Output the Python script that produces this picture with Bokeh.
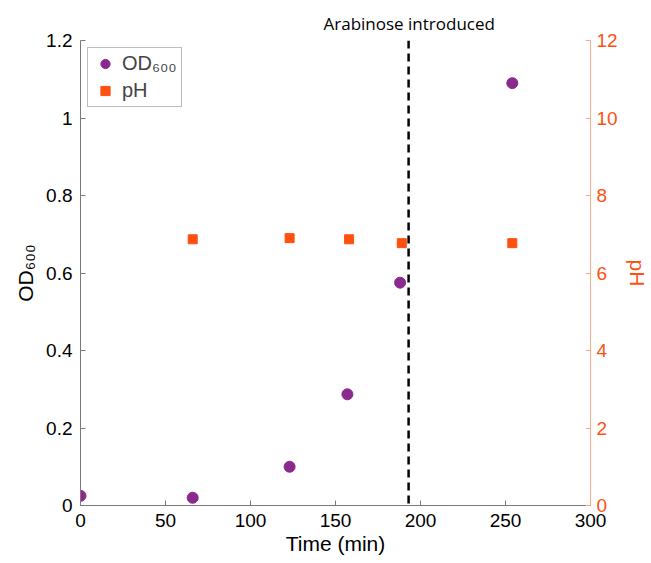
from bokeh.plotting import figure
from bokeh.models import Range1d, LinearAxis, Span, Title, FixedTicker, Legend, LegendItem
from bokeh.embed import file_html
from bokeh.resources import INLINE

# Growth measurements
time_od = [0, 66, 123, 157, 188, 254]
od600 = [0.025, 0.02, 0.1, 0.287, 0.575, 1.09]

time_ph = [66, 123, 158, 189, 254]
ph = [6.87, 6.90, 6.87, 6.77, 6.77]

arabinose_time = 193

x_ticks = [0, 50, 100, 150, 200, 250, 300]
od_ticks = [0, 0.2, 0.4, 0.6, 0.8, 1.0, 1.2]
ph_ticks = [0, 2, 4, 6, 8, 10, 12]

PURPLE = "#8B2A8E"
ORANGE = "#FF5010"
AXIS_GREY = "#7a7a7a"
FONT = "Liberation Sans"

p = figure(width=651, height=563, output_backend="svg", toolbar_location=None,
           x_range=Range1d(0, 300), y_range=Range1d(0, 1.2),
           min_border_left=80, min_border_right=58, min_border_top=40, min_border_bottom=58)
p.outline_line_color = None
p.grid.visible = False

p.extra_y_ranges = {"ph": Range1d(0, 12)}


def style_axis(ax, line_color, text_color):
    ax.axis_line_color = line_color
    ax.major_tick_line_color = line_color
    ax.major_tick_in = 5
    ax.major_tick_out = 0
    ax.minor_tick_line_color = None
    ax.major_label_text_font = FONT
    ax.major_label_text_font_size = "19px"
    ax.major_label_text_color = text_color
    ax.axis_label_text_font = FONT
    ax.axis_label_text_font_size = "21px"
    ax.axis_label_text_font_style = "normal"
    ax.axis_label_text_color = text_color


style_axis(p.xaxis[0], AXIS_GREY, "black")
style_axis(p.yaxis[0], AXIS_GREY, "black")

p.xaxis[0].ticker = FixedTicker(ticks=x_ticks)
p.xaxis[0].axis_label = "Time (min)"
p.xaxis[0].major_label_standoff = 8
p.xaxis[0].axis_label_standoff = 2

p.yaxis[0].ticker = FixedTicker(ticks=od_ticks)
p.yaxis[0].major_label_overrides = {0: "0", 1: "1", 0.2: "0.2", 0.4: "0.4",
                                    0.6: "0.6", 0.8: "0.8", 1.2: "1.2"}
p.yaxis[0].axis_label = "OD₆₀₀"
p.yaxis[0].major_label_standoff = 8
p.yaxis[0].axis_label_standoff = 6

ph_axis = LinearAxis(y_range_name="ph", ticker=FixedTicker(ticks=ph_ticks), axis_label="pH")
style_axis(ph_axis, "#FFA98A", ORANGE)
ph_axis.major_label_standoff = 6
ph_axis.axis_label_standoff = 5
p.add_layout(ph_axis, "right")

# Arabinose addition marker and its caption above the frame
p.add_layout(Span(location=arabinose_time, dimension="height", line_color="black",
                  line_width=2.5, line_dash="8 5"))
p.add_layout(Title(text="Arabinose introduced", align="left", offset=243,
                   text_font="Open Sans", text_font_size="17px",
                   text_font_style="normal", text_color="black", standoff=11), "above")

od_r = p.scatter(time_od, od600, marker="circle", size=11, fill_color=PURPLE, line_color=PURPLE)
ph_r = p.scatter(time_ph, ph, marker="square", size=9, fill_color=ORANGE, line_color=ORANGE,
                 y_range_name="ph")

legend = Legend(items=[LegendItem(label="OD₆₀₀", renderers=[od_r]),
                       LegendItem(label="pH", renderers=[ph_r])],
                location="top_left")
legend.label_text_font = FONT
legend.label_text_font_size = "20px"
legend.border_line_color = AXIS_GREY
legend.border_line_width = 1
legend.margin = 7
legend.padding = 4
legend.spacing = 4
legend.label_height = 23
legend.glyph_width = 26
legend.glyph_height = 23
legend.label_standoff = 4
p.add_layout(legend)

open("out.html", "w").write(file_html(p, INLINE))
